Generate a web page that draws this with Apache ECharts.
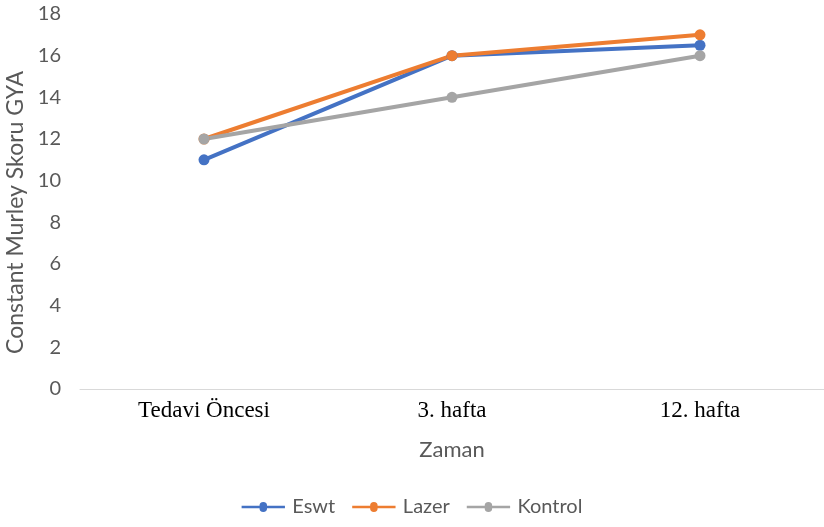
<!DOCTYPE html>
<html><head><meta charset="utf-8">
<script src="https://cdn.jsdelivr.net/npm/echarts@6/dist/echarts.min.js"></script>
<style>html,body{margin:0;padding:0;background:#fff}#c{width:824px;height:527px}</style>
</head><body><div id="c"></div>
<script>
const categories = ['Tedavi Öncesi', '3. hafta', '12. hafta'];
const eswt = [11, 16, 16.5];
const lazer = [12, 16, 17];
const kontrol = [12, 14, 16];
const seriesNames = ['Eswt', 'Lazer', 'Kontrol'];
const colors = ['#4472C4', '#ED7D31', '#A5A5A5'];
const values = [eswt, lazer, kontrol];

const chart = echarts.init(document.getElementById('c'), null, {renderer: 'canvas'});
chart.setOption({
  animation: false,
  color: colors,
  grid: {left: 80, right: 0, top: 14, bottom: 138, containLabel: false, outerBoundsMode: 'none'},
  legend: {
    bottom: 5, left: 'center', itemWidth: 52, itemHeight: 10, itemGap: 17,
    icon: 'path://M0,3.5 L21.5,3.5 A4.5,4.5 0 0 1 30.5,3.5 L52,3.5 L52,6.5 L30.5,6.5 A4.5,4.5 0 0 1 21.5,6.5 L0,6.5 Z',
    textStyle: {color: '#595959', fontSize: 20, fontFamily: 'Lato', padding: [0, 0, 0, -2]},
    data: seriesNames
  },
  xAxis: {
    type: 'category', data: categories, boundaryGap: true,
    axisLine: {lineStyle: {color: '#D9D9D9', width: 1}},
    axisTick: {show: false},
    axisLabel: {color: '#000', fontSize: 23, fontFamily: 'Liberation Serif', margin: 10},
    name: 'Zaman', nameLocation: 'middle', nameGap: 50,
    nameTextStyle: {color: '#595959', fontSize: 22, fontFamily: 'Lato'}
  },
  yAxis: {
    type: 'value', min: 0, max: 18, interval: 2,
    axisLine: {show: false}, axisTick: {show: false},
    splitLine: {show: false},
    axisLabel: {color: '#595959', fontSize: 20, fontFamily: 'Lato', margin: 19},
    name: 'Constant Murley Skoru GYA', nameLocation: 'middle', nameGap: 50,
    nameTextStyle: {color: '#595959', fontSize: 23, fontFamily: 'Lato', padding: [0, 22, 0, 0]}
  },
  series: values.map((v, i) => ({
    name: seriesNames[i], type: 'line', data: v,
    symbol: 'circle', symbolSize: 11,
    lineStyle: {width: 4, color: colors[i]},
    itemStyle: {color: colors[i]}
  }))
});
</script></body></html>
